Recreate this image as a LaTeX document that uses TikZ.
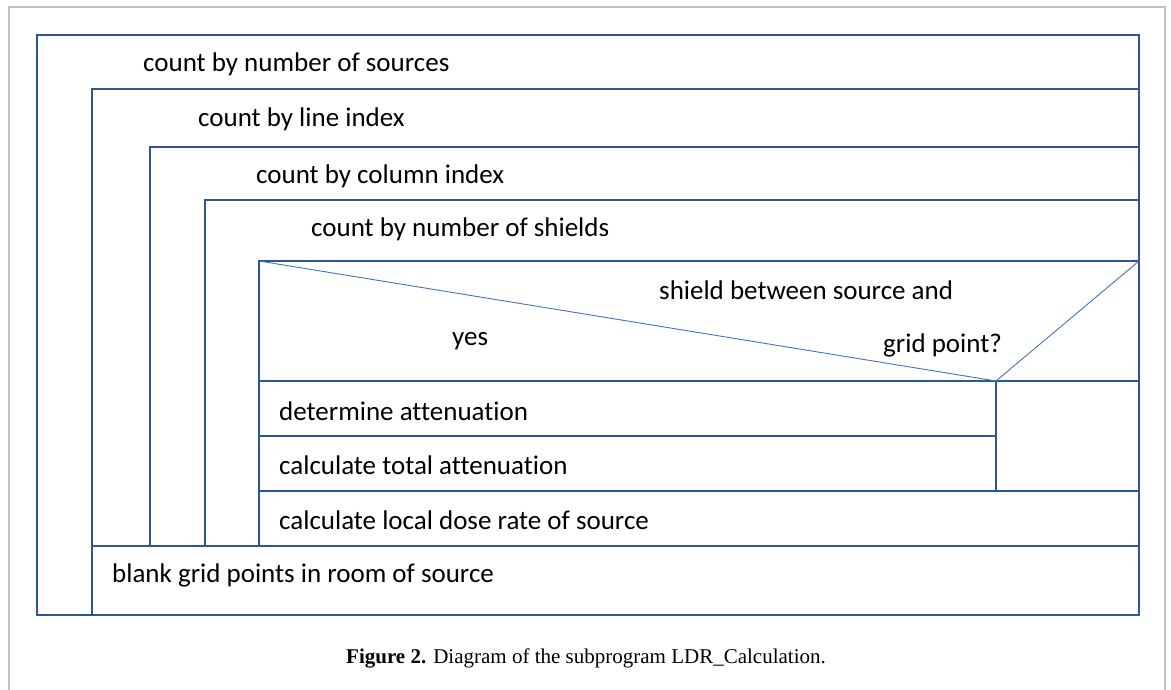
\documentclass[tikz,border=0pt]{standalone}
\usepackage{fontspec}
\setmainfont[Ligatures=NoCommon]{Carlito}
\newfontfamily\capfont{Liberation Serif}
\definecolor{boxblue}{HTML}{2F5597}
\definecolor{diagblue}{HTML}{4472C4}
\definecolor{framegray}{HTML}{C0C0C0}
\begin{document}
\begin{tikzpicture}[x=1pt,y=-1pt,
  box/.style={draw=boxblue,line width=2.2pt},
  diag/.style={draw=diagblue,line width=0.9pt},
  lbl/.style={anchor=west,inner sep=0pt,font=\fontsize{27}{32}\selectfont},
  captext/.style={inner sep=0pt,font=\capfont\fontsize{21}{25}\selectfont}]
\useasboundingbox (0,0) rectangle (1171,690);
\fill[white] (0,0) rectangle (1171,690);
% gray frame
\draw[framegray,line width=1.5pt] (9,692) -- (9,7) -- (1165,7) -- (1165,692);
% structogram
\draw[box] (37,35) rectangle (1139,615);
\draw[box] (92,615) -- (92,89) -- (1139,89);
\draw[box] (150,546) -- (150,147) -- (1139,147);
\draw[box] (205,546) -- (205,200) -- (1139,200);
\draw[box] (259,546) -- (259,261) -- (1139,261);
\draw[box] (92,546) -- (1139,546);
\draw[box] (259,381) -- (1139,381);
\draw[box] (996,381) -- (996,491);
\draw[box] (259,436) -- (996,436);
\draw[box] (259,491) -- (1139,491);
\coordinate (dl) at (259,261);
\coordinate (dm) at (996,381);
\coordinate (dr) at (1139,261);
\draw[diag] (dl) -- (dm) -- (dr);
% labels
\node[lbl] (l1) at (143,64) {count by number of sources};
\node[lbl] (l2) at (198,119) {count by line index};
\node[lbl] (l3) at (256,176) {count by column index};
\node[lbl] (l4) at (311,229) {count by number of shields};
\node[lbl] (q1) at (659,290) {shield between source and};
\node[lbl] (yes) at (452,341) {yes};
\node[lbl] (q2) at (883,345) {grid point?};
\node[lbl] (s1) at (279,411) {determine attenuation};
\node[lbl] (s2) at (279,465) {calculate total attenuation};
\node[lbl] (s3) at (279,520) {calculate local dose rate of source};
\node[lbl] (s4) at (112,575) {blank grid points in room of source};
\node[captext] (caption) at (586,658) {\textbf{Figure 2.} Diagram of the subprogram LDR\_Calculation.};
\end{tikzpicture}
\end{document}
